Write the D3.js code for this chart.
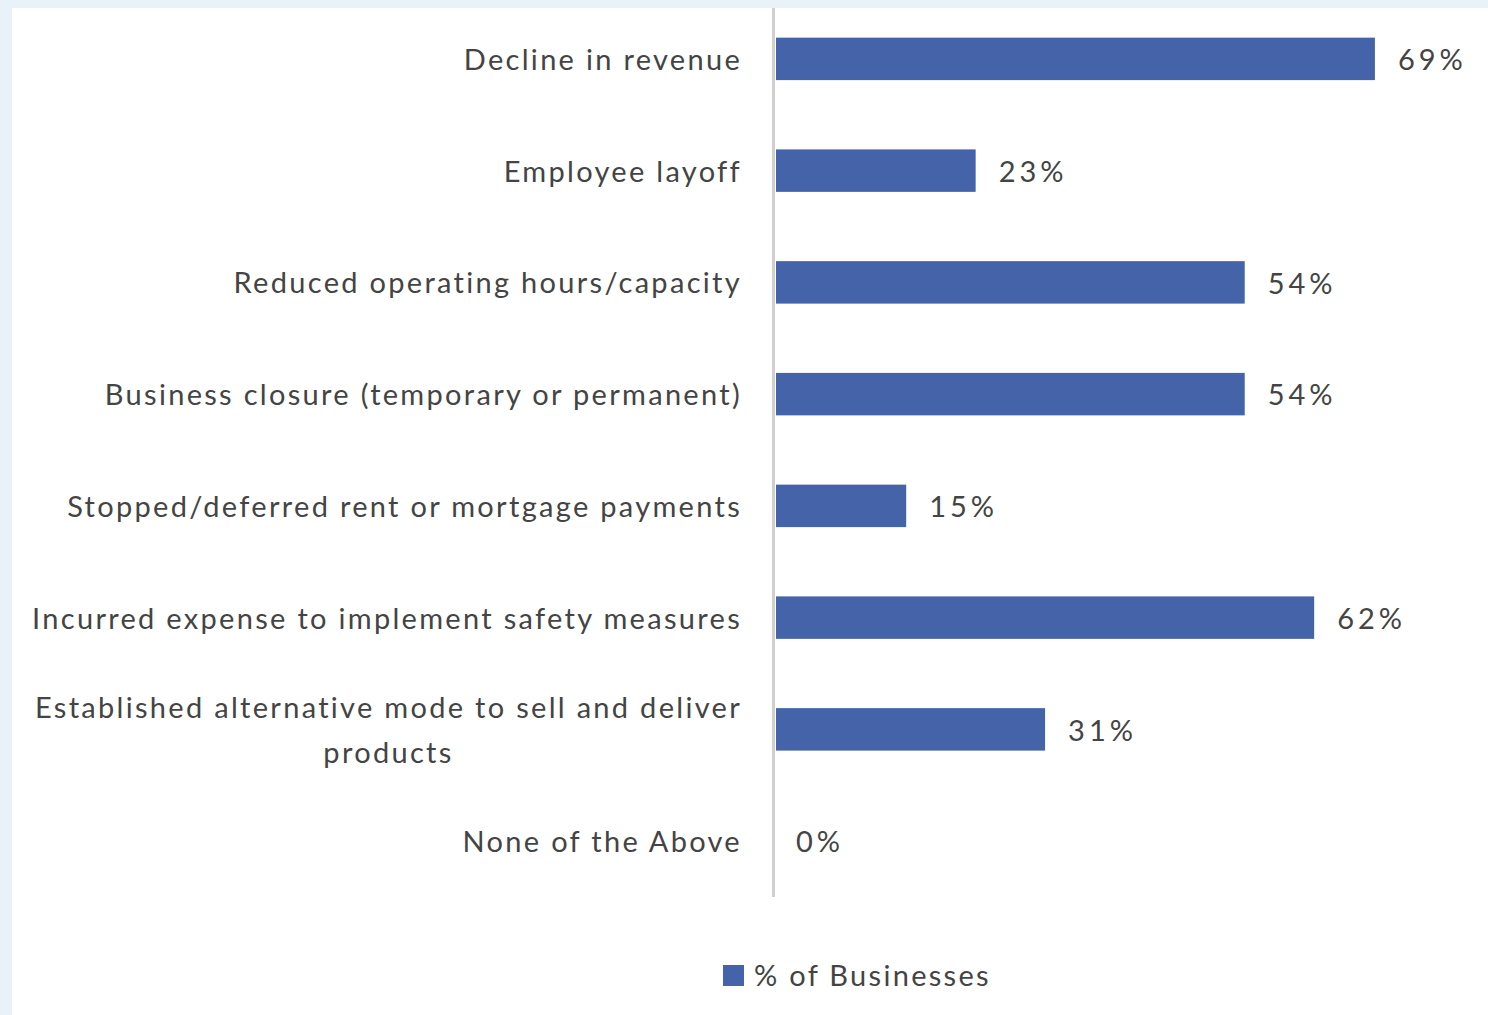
<!DOCTYPE html>
<html>
<head>
<meta charset="utf-8">
<script src="https://cdn.jsdelivr.net/npm/d3@7"></script>
<style>
  html, body { margin: 0; padding: 0; background: #e9f1f9; }
  svg { display: block; }
  text { font-family: Lato, "Open Sans", sans-serif; fill: #444; letter-spacing: 2.3px; }
  .value { letter-spacing: 4px; }
</style>
</head>
<body>
<svg id="chart" width="1488" height="1015"></svg>
<script>
// Impact categories (top to bottom) and the share of businesses reporting each
const categories = [
  "Decline in revenue",
  "Employee layoff",
  "Reduced operating hours/capacity",
  "Business closure (temporary or permanent)",
  "Stopped/deferred rent or mortgage payments",
  "Incurred expense to implement safety measures",
  "Established alternative mode to sell and deliver|products",
  "None of the Above"
];
const values = [69, 23, 54, 54, 15, 62, 31, 0];
const seriesName = "% of Businesses";

const W = 1488, H = 1015;
const svg = d3.select("#chart");

// white panel inset from the pale blue page
svg.append("rect").attr("x", 12).attr("y", 8).attr("width", W - 12).attr("height", H - 8).attr("fill", "#fff");

const x = d3.scaleLinear().domain([0, 80]).range([776, 776 + 80 * 8.68]);
const y = d3.scaleBand().domain(categories).range([3, 897]).paddingInner(0.62).paddingOuter(0.31);

const barColor = "#4563a8";
const fontSize = 29;

// category axis line
svg.append("line")
  .attr("x1", 773.5).attr("x2", 773.5)
  .attr("y1", 8).attr("y2", 897)
  .attr("stroke", "#d0d0d0").attr("stroke-width", 3);

const data = categories.map((c, i) => ({ cat: c, value: values[i] }));

// bars
svg.append("g").selectAll("rect").data(data).join("rect")
  .attr("x", x(0))
  .attr("y", d => y(d.cat))
  .attr("width", d => x(d.value) - x(0))
  .attr("height", y.bandwidth())
  .attr("fill", barColor);

// value labels
svg.append("g").selectAll("text").data(data).join("text")
  .attr("class", "value")
  .attr("x", d => x(d.value) + (d.value > 0 ? 23 : 20))
  .attr("y", d => y(d.cat) + y.bandwidth() / 2 + 4)
  .attr("dominant-baseline", "middle")
  .attr("font-size", fontSize)
  .text(d => d.value + "%");

// category labels, right aligned; wrapped lines are centred on each other
const labelRight = 742;
const lineGap = 45;
const labels = svg.append("g");
data.forEach(d => {
  const lines = d.cat.split("|");
  const cy = y(d.cat) + y.bandwidth() / 2 + 4;
  const t = labels.append("text")
    .attr("font-size", fontSize)
    .attr("dominant-baseline", "middle");
  const spans = lines.map((ln, i) => t.append("tspan")
    .attr("y", cy + (i - (lines.length - 1) / 2) * lineGap)
    .text(ln));
  const widths = spans.map(s => s.node().getComputedTextLength());
  const maxW = d3.max(widths);
  spans.forEach(s => {
    s.attr("x", labelRight - maxW / 2).attr("text-anchor", "middle");
  });
});

// legend
const lg = svg.append("g").attr("transform", "translate(723,965)");
lg.append("rect").attr("width", 21).attr("height", 21).attr("fill", barColor);
lg.append("text").attr("x", 31).attr("y", 14).attr("dominant-baseline", "middle")
  .attr("font-size", fontSize).text(seriesName);
</script>
</body>
</html>
